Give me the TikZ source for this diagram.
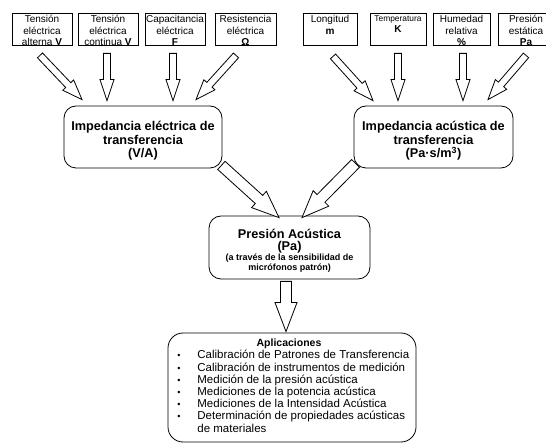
\documentclass[tikz,border=0pt]{standalone}
\usepackage{fontspec}
\setmainfont{Liberation Sans}
\usetikzlibrary{calc}

% hollow block arrow: from, to, half shaft, half head, head length
\newcommand{\blockarrow}[5]{%
  \coordinate (ah) at ($(#2)!#5!(#1)$);
  \draw[fill=white] ($(#1)!#3!90:(#2)$) -- ($(ah)!#3!90:(#2)$) -- ($(ah)!#4!90:(#2)$) -- (#2)
    -- ($(ah)!#4!-90:(#2)$) -- ($(ah)!#3!-90:(#2)$) -- ($(#1)!#3!-90:(#2)$) -- cycle;}

% text of a top box, cut at the box border
\newcommand{\boxtext}[2]{%
  \begin{scope}
    \clip (#1.south west) rectangle (#1.north east);
    \node[toptext] (#1-t) at (#1.north) {#2};
  \end{scope}}

\newcommand{\bul}{\llap{{\fontsize{9}{9}\selectfont\textbullet}\hspace{17pt}}}

\begin{document}
\begin{tikzpicture}[x=1pt, y=-1pt, line width=0.8pt,
    topbox/.style={draw, minimum height=32pt, inner sep=0pt},
    toptext/.style={anchor=north, align=center, inner sep=0pt, yshift=-2.5pt,
      font=\fontsize{10}{11.3}\selectfont},
    rbox/.style={draw, rounded corners=12pt, align=center, inner sep=0pt,
      font=\bfseries\fontsize{12.7}{13.5}\selectfont},
    listtext/.style={align=left, inner sep=0pt,
      font=\fontsize{11.5}{12.2}\selectfont\lineskiplimit-20pt\relax}]
\useasboundingbox (0,0) rectangle (546,443);

% magnitudes
\node[topbox, minimum width=60pt] (tva) at (42,29) {};
\node[topbox, minimum width=60pt] (tvc) at (108,29) {};
\node[topbox, minimum width=60pt] (cap) at (175,29) {};
\node[topbox, minimum width=61pt] (res) at (245.5,29) {};
\node[topbox, minimum width=54pt] (lon) at (330,29) {};
\node[topbox, minimum width=56pt] (tem) at (398,29) {};
\node[topbox, minimum width=57pt] (hum) at (461.5,29) {};
\node[topbox, minimum width=56pt] (pre) at (526,29) {};
\boxtext{tva}{Tensión\\eléctrica\\alterna \textbf{V}}
\boxtext{tvc}{Tensión\\eléctrica\\continua \textbf{V}}
\boxtext{cap}{Capacitancia\\eléctrica\\\textbf{F}}
\boxtext{res}{Resistencia\\eléctrica\\\textbf{Ω}}
\boxtext{lon}{Longitud\\\textbf{m}}
\boxtext{tem}{{\fontsize{8.4}{10}\selectfont Temperatura}\\\textbf{K}}
\boxtext{hum}{Humedad\\relativa\\\textbf{\%}}
\boxtext{pre}{Presión\\estática\\\textbf{Pa}}

% impedancias
\node[rbox, minimum width=158pt, minimum height=62pt] (zel) at (143,137)
  {\rule{0pt}{17pt}Impedancia eléctrica de\\transferencia\\(V/A)};
\node[rbox, minimum width=159pt, minimum height=62pt] (zac) at (433.5,137)
  {\rule{0pt}{17pt}Impedancia acústica de\\transferencia\\(Pa·s/m\textsuperscript{3})};

% presion acustica
\node[rbox, minimum width=161pt, minimum height=63pt] (pac) at (289.5,247.5)
  {\rule{0pt}{16pt}Presión Acústica\\[-1.5pt](Pa)\\[-3.5pt]{\fontsize{9}{11}\selectfont (a través de la sensibilidad de}\\[-3.5pt]{\fontsize{9}{11}\selectfont micrófonos patrón)}};

% aplicaciones
\node[draw, rounded corners=15pt, minimum width=248pt, minimum height=109pt] (apl) at (292,387.5) {};
\node[font=\bfseries\fontsize{10.5}{12}\selectfont, inner sep=0pt] (apltit)
  at ($(apl.north)+(-3,11)$) {Aplicaciones};
\node[listtext, anchor=north west] (apllst) at ($(apl.north)+(-95,17.5)$)
  {\bul Calibración de Patrones de Transferencia\\
   \bul Calibración de instrumentos de medición\\
   \bul Medición de la presión acústica\\
   \bul Mediciones de la potencia acústica\\
   \bul Mediciones de la Intensidad Acústica\\
   \bul Determinación de propiedades acústicas\\
   de materiales};

% arrow ends
\coordinate (a1s) at ($(tva.south)+(-2,10)$);
\coordinate (a1e) at ($(zel.north)+(-61,-6)$);
\coordinate (a2s) at ($(tvc.south)+(-1,8)$);
\coordinate (a2e) at ($(zel.north)+(-36,-5)$);
\coordinate (a3s) at ($(cap.south)+(-2,8)$);
\coordinate (a3e) at ($(zel.north)+(30,-5)$);
\coordinate (a4s) at ($(res.south)+(-9.5,10)$);
\coordinate (a4e) at ($(zel.north)+(53,-6)$);
\coordinate (a5s) at ($(lon.south)+(3,11)$);
\coordinate (a5e) at ($(zac.north)+(-60.5,-5)$);
\coordinate (a6s) at ($(tem.south)+(0,8)$);
\coordinate (a6e) at ($(zac.north)+(-35.5,-5)$);
\coordinate (a7s) at ($(hum.south)+(1.5,8)$);
\coordinate (a7e) at ($(zac.north)+(29.5,-5)$);
\coordinate (a8s) at ($(pre.south)+(0,10)$);
\coordinate (a8e) at ($(zac.north)+(54.5,-6)$);
\coordinate (b1s) at ($(zel.south east)+(-1,-3)$);
\coordinate (b1e) at ($(pac.north)+(-10.5,2)$);
\coordinate (b2s) at ($(zac.south west)+(2,-5)$);
\coordinate (b2e) at ($(pac.north)+(12.5,2)$);
\coordinate (c1s) at ($(pac.south)+(-3.5,2)$);
\coordinate (c1e) at ($(apl.north)+(-6,-1)$);

\blockarrow{a1s}{a1e}{3.5pt}{7.5pt}{20pt}
\blockarrow{a2s}{a2e}{3.5pt}{7pt}{21pt}
\blockarrow{a3s}{a3e}{3.5pt}{7pt}{21pt}
\blockarrow{a4s}{a4e}{3.5pt}{7.5pt}{20pt}
\blockarrow{a5s}{a5e}{3.5pt}{7.5pt}{20pt}
\blockarrow{a6s}{a6e}{3.5pt}{7pt}{21pt}
\blockarrow{a7s}{a7e}{3.5pt}{7pt}{21pt}
\blockarrow{a8s}{a8e}{3.5pt}{7.5pt}{20pt}
\blockarrow{b1s}{b1e}{5.5pt}{11pt}{27pt}
\blockarrow{b2s}{b2e}{5.5pt}{11pt}{27pt}
\blockarrow{c1s}{c1e}{5.5pt}{11pt}{29pt}
\end{tikzpicture}
\end{document}
